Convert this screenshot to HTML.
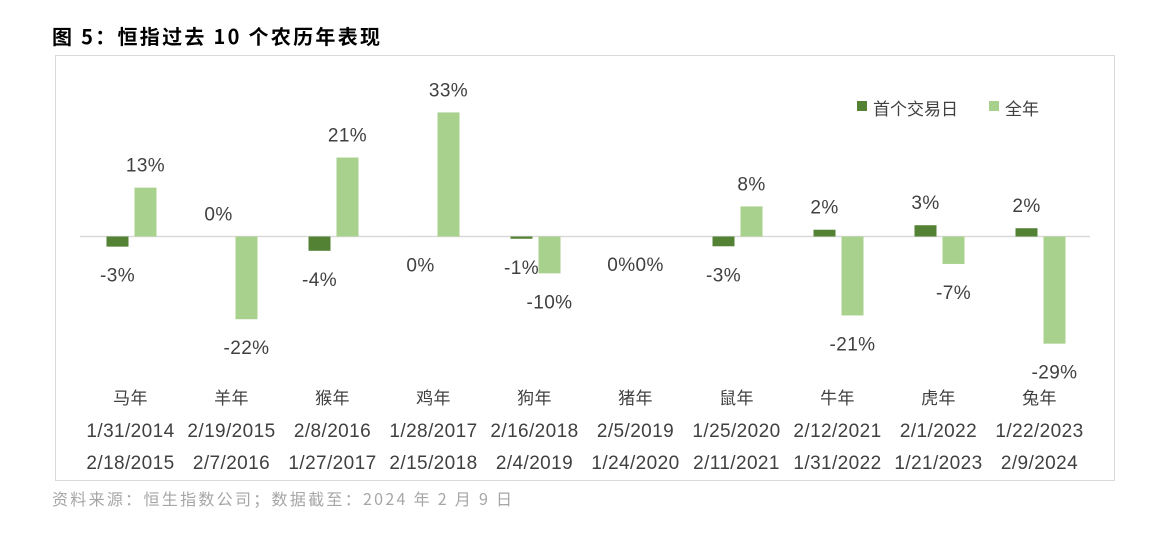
<!DOCTYPE html>
<html><head><meta charset="utf-8"><style>
body{margin:0;background:#fff;width:1160px;height:540px;overflow:hidden;font-family:"Liberation Sans","Noto Sans CJK SC",sans-serif;}
</style></head><body>
<svg width="1160" height="540" xmlns="http://www.w3.org/2000/svg" font-family="Liberation Sans, Noto Sans CJK SC, sans-serif">
<text x="52" y="44" font-size="20" font-weight="bold" fill="#000" font-family="Noto Sans CJK SC, sans-serif" textLength="328" lengthAdjust="spacing">图 5：恒指过去 10 个农历年表现</text>
<rect x="55.5" y="55.5" width="1059" height="425" fill="none" stroke="#d9d9d9"/>
<line x1="80" y1="236.5" x2="1090" y2="236.5" stroke="#d9d9d9" stroke-width="1.5"/>
<rect x="857" y="101" width="10" height="10" fill="#548235"/>
<text x="873" y="115" font-size="17" fill="#404040">首个交易日</text>
<rect x="989" y="101" width="10" height="10" fill="#a9d18e"/>
<text x="1005" y="115" font-size="17" fill="#404040">全年</text>
<g id="bars"></g>
<g font-size="19" letter-spacing="0.4" fill="#404040" text-anchor="middle" id="labels"></g>
<text x="52" y="505" font-size="16" fill="#a6a6a6" font-family="Noto Sans CJK SC, sans-serif" textLength="460" lengthAdjust="spacing">资料来源：恒生指数公司；数据截至：2024 年 2 月 9 日</text>
</svg>
<script>
var d=[["马年","1/31/2014","2/18/2015",-3,13],["羊年","2/19/2015","2/7/2016",0,-22],["猴年","2/8/2016","1/27/2017",-4,21],["鸡年","1/28/2017","2/15/2018",0,33],["狗年","2/16/2018","2/4/2019",-1,-10],["猪年","2/5/2019","1/24/2020",0,0],["鼠年","1/25/2020","2/11/2021",-3,8],["牛年","2/12/2021","1/31/2022",2,-21],["虎年","2/1/2022","1/21/2023",3,-7],["兔年","1/22/2023","2/9/2024",2,-29]];
var z=236.5,s=3.76,b='',l='';
var dv=[-2.7,0,-3.8,-0.01,-0.6,0,-2.6,1.8,3,2.2];
var lv=[13,-22,21,33,-9.8,0,8,-21,-7.3,-28.5];
d.forEach(function(r,i){var c=130.5+i*101;
function bar(x,v,col){var h=Math.abs(v)*s;var y=v>=0?z-h:z;b+='<rect x="'+x+'" y="'+y+'" width="22" height="'+h+'" fill="'+col+'"/>';}
bar(c-24,dv[i],'#548235');bar(c+4,lv[i],'#a9d18e');
function lab(x,v,t){var h=Math.abs(v)*s;var y=v>=0?z-h-16:z+h+35;l+='<text x="'+x+'" y="'+y+'">'+t+'%</text>';}
if(i==5){l+='<text x="'+c+'" y="271">0%0%</text>';}
else{lab(c-13,dv[i],r[3]);lab(c+15,lv[i],r[4]);}
l+='<text x="'+c+'" y="404" font-size="17">'+r[0]+'</text><text x="'+c+'" y="437">'+r[1]+'</text><text x="'+c+'" y="469">'+r[2]+'</text>';
});
document.getElementById('bars').innerHTML=b;document.getElementById('labels').innerHTML=l;
</script>
</body></html>
